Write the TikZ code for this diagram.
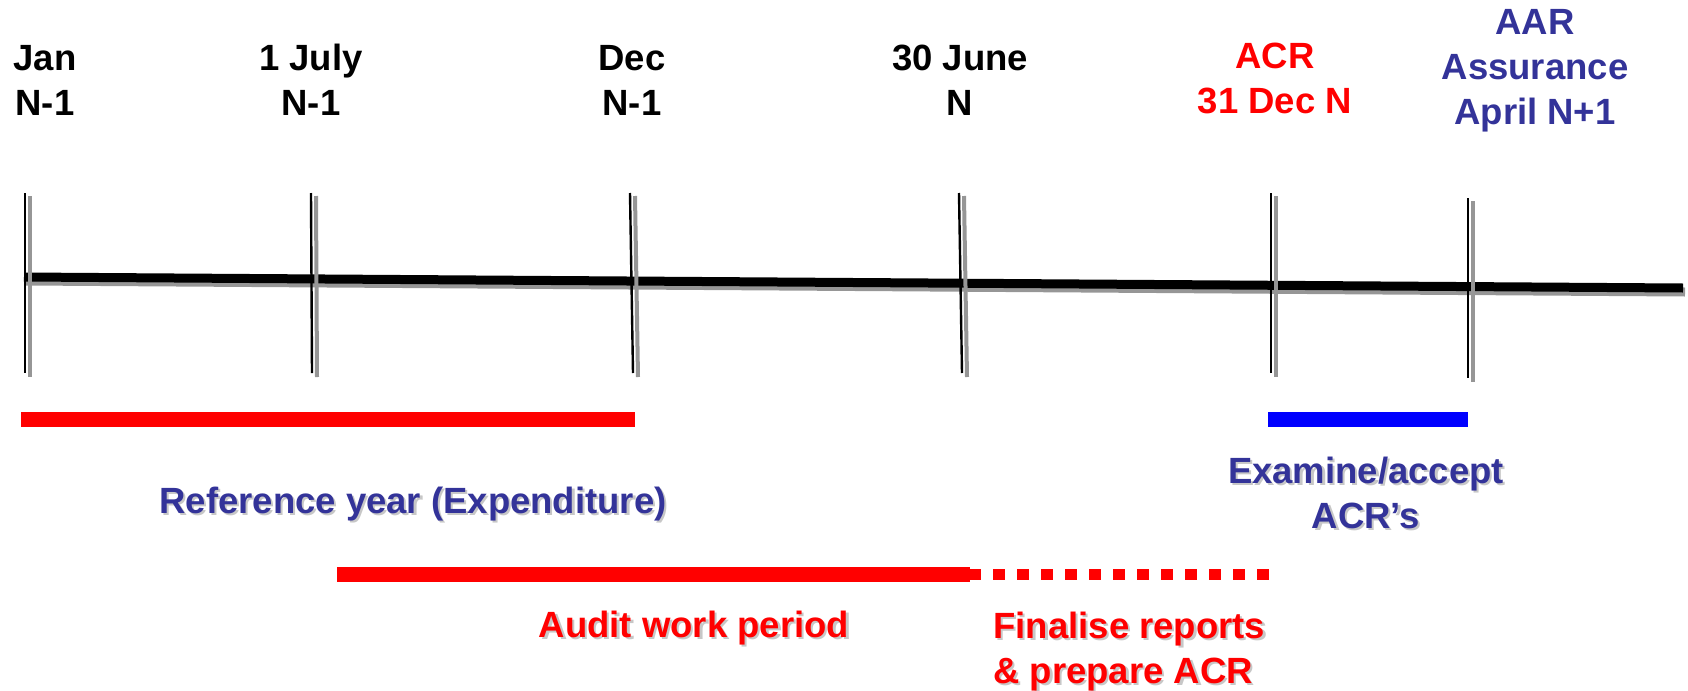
\documentclass[tikz,border=0pt]{standalone}
\usepackage{fontspec}
\setmainfont{Liberation Sans}
\usepackage{tikz}
\definecolor{ACRred}{RGB}{255,0,0}
\definecolor{AARblue}{RGB}{51,51,153}
\definecolor{EXblue}{RGB}{0,0,255}
\definecolor{tickgrey}{RGB}{150,150,150}
\newcommand{\txtshadow}[1]{\rlap{\kern1.1pt\raisebox{-1.1pt}{\textcolor{black!22}{#1}}}#1}
\tikzset{datelbl/.style={font=\fontsize{18.25pt}{22.5pt}\selectfont\bfseries, align=center, inner sep=0pt, anchor=base}}
\tikzset{timeaxis/.style={line width=4.5pt, black}}
\tikzset{axisshade/.style={line width=4.5pt, tickgrey}}
\tikzset{datetick/.style={line width=1.2pt, black}}
\tikzset{tickshade/.style={line width=2pt, tickgrey}}
\tikzset{period/.style={line width=7.5pt}}
\tikzset{periodcont/.style={line width=5.5pt, dash pattern=on 6pt off 6pt}}

\begin{document}
\begin{tikzpicture}[x=0.5pt, y=-0.5pt]
  \useasboundingbox (0,0) rectangle (1688,691);

  % --- time axis ---
  \draw[axisshade] (26,281) -- (1685,292);
  \draw[timeaxis] (24,277) -- (1683,288);

  % --- date ticks (black stroke with grey shade) ---
  \foreach \name/\xt/\xb/\yo in {jan/25/25/0, jul/311/312/0, dec/630/633/0,
                                 jun/959/962/0, acr/1271/1271/0, aar/1468/1468/5} {
    \draw[tickshade] (\xt+5,196+\yo) -- (\xb+5,377+\yo);
    \draw[datetick] (\xt,193+\yo) -- (\xb,373+\yo);
    \coordinate (\name) at (\xt,193+\yo);
  }

  % --- date labels (base = last line) ---
  \node[datelbl] (lblJan) at (45,115) {Jan\\N-1};
  \node[datelbl] (lblJul) at (311,115) {1 July\\N-1};
  \node[datelbl] (lblDec) at (632,115) {Dec\\N-1};
  \node[datelbl] (lblJun) at (960,115) {30 June\\N};
  \node[datelbl, text=ACRred] (lblACR) at (1275,113) {ACR\\31 Dec N};
  \node[datelbl, text=AARblue] (lblAAR) at (1535,124) {AAR\\Assurance\\April N+1};

  % --- periods ---
  \draw[period, ACRred] (21,419.5) -- (635,419.5);
  \draw[period, EXblue] (1268,419.5) -- (1468,419.5);
  \draw[period, ACRred] (337,574.5) -- (970,574.5);
  \draw[periodcont, ACRred] (969,574.5) -- (1269,574.5);

  % --- period labels ---
  \node[datelbl, text=AARblue] (lblRef) at (413,513) {\txtshadow{Reference year (Expenditure)}};
  \node[datelbl, text=AARblue] (lblExam) at (1366,528) {\txtshadow{Examine/accept}\\\txtshadow{ACR’s}};
  \node[datelbl, text=ACRred] (lblAudit) at (694,637) {\txtshadow{Audit work period}};
  \node[datelbl, text=ACRred, align=left, anchor=base west] (lblFinal) at (993,683)
    {\txtshadow{Finalise reports}\\\txtshadow{\& prepare ACR}};
\end{tikzpicture}
\end{document}
